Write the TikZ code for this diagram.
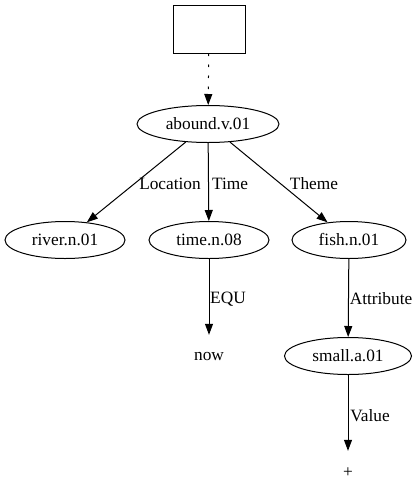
\documentclass[tikz,border=0pt]{standalone}
\usepackage{fontspec}
\setmainfont{Liberation Serif}
\usetikzlibrary{shapes.geometric,arrows.meta}
\begin{document}
\begin{tikzpicture}[x=1pt,y=-1pt,
  every node/.style={font=\fontsize{17.3}{20}\selectfont},
  ell/.style={draw,ellipse,line width=1pt,inner sep=0pt,minimum height=37pt},
  box/.style={draw,rectangle,line width=1pt,minimum width=72pt,minimum height=48pt,inner sep=0pt},
  plain/.style={inner sep=0pt,minimum height=44pt},
  edge/.style={draw,line width=1pt,-{Triangle[length=11pt,width=8pt]}},
  dots/.style={dash pattern=on 2.5pt off 8.5pt},
  lab/.style={inner sep=0pt}]
\useasboundingbox (0,0) rectangle (420,504);
\node[box] (top) at (209,29) {};
\node[ell,minimum width=142pt] (abound) at (208,124) {abound.v.01};
\node[ell,minimum width=120pt] (river) at (65,240) {river.n.01};
\node[ell,minimum width=120pt] (time) at (209,240) {time.n.08};
\node[ell,minimum width=114pt] (fish) at (349,240) {fish.n.01};
\node[plain] (now) at (209,357) {now};
\node[ell,minimum width=127pt] (small) at (348,356) {small.a.01};
\node[plain] (plus) at (348,473) {+};
\draw[edge,dots] (top) -- (abound);
\draw[edge] (abound) -- (river);
\draw[edge] (abound) -- (time);
\draw[edge] (abound) -- (fish);
\draw[edge] (time) -- (now);
\draw[edge] (fish) -- (small);
\draw[edge] (small) -- (plus);
\node[lab] (l1) at (170,184) {Location};
\node[lab] (l2) at (230,184) {Time};
\node[lab] (l3) at (314,184) {Theme};
\node[lab] (l4) at (228,299) {EQU};
\node[lab] (l5) at (381,299) {Attribute};
\node[lab] (l6) at (370,416) {Value};
\end{tikzpicture}
\end{document}
